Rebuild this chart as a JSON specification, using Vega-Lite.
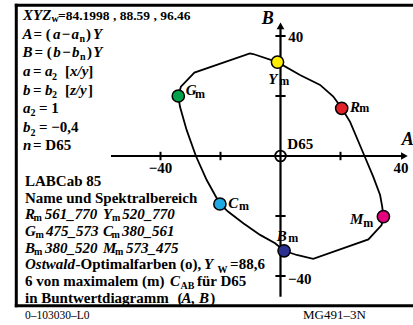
{
 "$schema": "https://vega.github.io/schema/vega-lite/v6.json",
 "width": 413, "height": 325,
 "autosize": {"type": "none"},
 "padding": 0,
 "background": "white",
 "config": {"view": {"stroke": null}},
 "encoding": {
  "x": {"field": "A", "type": "quantitative", "scale": {"domain": [-93.5, 44.1667], "nice": false, "zero": false}, "axis": null},
  "y": {"field": "B", "type": "quantitative", "scale": {"domain": [-56.3333, 52], "nice": false, "zero": false}, "axis": null}
 },
 "datasets": {
  "frame": [
   {"A": -88.07, "B": 50.23, "A2": 44.17, "B2": 50.23},
   {"A": -88.07, "B": -49.9, "A2": 44.17, "B2": -49.9},
   {"A": -88.07, "B": 50.23, "A2": -88.07, "B2": -49.9}
  ],
  "axes": [
   {"A": -56.5, "B": 0, "A2": 41, "B2": 0},
   {"A": 0, "B": -46.9, "A2": 0, "B2": 43}
  ],
  "ticks": [
   {"A": -40, "B": -1.4, "A2": -40, "B2": 1.4},
   {"A": -20, "B": -1.4, "A2": -20, "B2": 1.4},
   {"A": 20, "B": -1.4, "A2": 20, "B2": 1.4},
   {"A": -1.7, "B": 40, "A2": 1.7, "B2": 40},
   {"A": -1.7, "B": 20, "A2": 1.7, "B2": 20},
   {"A": -1.7, "B": -20, "A2": 1.7, "B2": -20},
   {"A": -1.7, "B": -40, "A2": 1.7, "B2": -40}
  ],
  "arrowR": [{"A": 41.3, "B": 0}],
  "arrowU": [{"A": 0, "B": 43.4}],
  "origin": [{"A": 0, "B": 0}],
  "curve": [
   {"i": 1, "A": -34.07, "B": 20.0},
   {"i": 2, "A": -33.2, "B": 23.1},
   {"i": 3, "A": -28.7, "B": 27.8},
   {"i": 4, "A": -10.2, "B": 34.2},
   {"i": 5, "A": -9.1, "B": 34.0},
   {"i": 6, "A": -1.0, "B": 31.3},
   {"i": 7, "A": 6.5, "B": 27.0},
   {"i": 8, "A": 13.2, "B": 23.7},
   {"i": 9, "A": 17.6, "B": 19.8},
   {"i": 10, "A": 20.4, "B": 15.9},
   {"i": 11, "A": 23.2, "B": 11.4},
   {"i": 12, "A": 28.0, "B": 0.0},
   {"i": 13, "A": 30.9, "B": -6.9},
   {"i": 14, "A": 33.2, "B": -13.0},
   {"i": 15, "A": 33.9, "B": -16.9},
   {"i": 16, "A": 34.3, "B": -20.2},
   {"i": 17, "A": 33.7, "B": -23.0},
   {"i": 18, "A": 29.3, "B": -27.8},
   {"i": 19, "A": 10.9, "B": -34.3},
   {"i": 20, "A": 5.4, "B": -33.0},
   {"i": 21, "A": 1.2, "B": -31.6},
   {"i": 22, "A": -1.8, "B": -29.1},
   {"i": 23, "A": -6.8, "B": -26.3},
   {"i": 24, "A": -12.4, "B": -22.4},
   {"i": 25, "A": -17.4, "B": -18.6},
   {"i": 26, "A": -20.2, "B": -16.0},
   {"i": 27, "A": -24.6, "B": -8.0},
   {"i": 28, "A": -28.2, "B": 0.0},
   {"i": 29, "A": -31.3, "B": 8.7},
   {"i": 30, "A": -33.5, "B": 16.4},
   {"i": 31, "A": -34.07, "B": 20.0}
  ],
  "points": [
   {"name": "G", "A": -34.07, "B": 20.0},
   {"name": "Y", "A": -1.0, "B": 31.3},
   {"name": "R", "A": 20.4, "B": 15.9},
   {"name": "M", "A": 34.3, "B": -20.2},
   {"name": "B", "A": 1.2, "B": -31.6},
   {"name": "C", "A": -20.2, "B": -16.0}
  ],
  "ib15": [
   {"A": -85.83, "B": 45.33, "t": "XYZ"},
   {"A": -86.0, "B": 39.0, "t": "A"},
   {"A": -75.83, "B": 39.0, "t": "a"},
   {"A": -73.0, "B": 39.0, "t": "−"},
   {"A": -69.67, "B": 39.0, "t": "a"},
   {"A": -62.5, "B": 39.0, "t": "Y"},
   {"A": -86.0, "B": 33.0, "t": "B"},
   {"A": -75.73, "B": 33.0, "t": "b"},
   {"A": -72.83, "B": 33.0, "t": "−"},
   {"A": -69.5, "B": 33.0, "t": "b"},
   {"A": -62.4, "B": 33.0, "t": "Y"},
   {"A": -85.83, "B": 26.67, "t": "a"},
   {"A": -78.5, "B": 26.67, "t": "a"},
   {"A": -70.17, "B": 26.67, "t": "x/y"},
   {"A": -85.83, "B": 20.33, "t": "b"},
   {"A": -78.5, "B": 20.33, "t": "b"},
   {"A": -70.17, "B": 20.33, "t": "z/y"},
   {"A": -85.83, "B": 14.33, "t": "a"},
   {"A": -85.83, "B": 8.0, "t": "b"},
   {"A": -85.83, "B": 2.0, "t": "n"},
   {"A": -85.17, "B": -21.1, "t": "R"},
   {"A": -78.6, "B": -21.1, "t": "561_770"},
   {"A": -59.17, "B": -21.1, "t": "Y"},
   {"A": -52.73, "B": -21.1, "t": "520_770"},
   {"A": -85.17, "B": -26.67, "t": "G"},
   {"A": -78.17, "B": -26.67, "t": "475_573"},
   {"A": -59.17, "B": -26.67, "t": "C"},
   {"A": -52.83, "B": -26.67, "t": "380_561"},
   {"A": -85.17, "B": -32.23, "t": "B"},
   {"A": -78.5, "B": -32.23, "t": "380_520"},
   {"A": -59.17, "B": -32.23, "t": "M"},
   {"A": -51.5, "B": -32.23, "t": "573_475"},
   {"A": -85.17, "B": -37.77, "t": "Ostwald"},
   {"A": -25.5, "B": -37.77, "t": "Y"},
   {"A": -36.83, "B": -43.33, "t": "C"},
   {"A": -33.0, "B": -48.9, "t": "A, B"}
  ],
  "b15": [
   {"A": -82.33, "B": 39.0, "t": "= ("},
   {"A": -64.83, "B": 39.0, "t": ")"},
   {"A": -82.0, "B": 33.0, "t": "= ("},
   {"A": -64.5, "B": 33.0, "t": ")"},
   {"A": -82.5, "B": 26.67, "t": "="},
   {"A": -71.83, "B": 26.67, "t": "["},
   {"A": -64.1, "B": 26.67, "t": "]"},
   {"A": -82.5, "B": 20.33, "t": "="},
   {"A": -71.83, "B": 20.33, "t": "["},
   {"A": -64.17, "B": 20.33, "t": "]"},
   {"A": -80.5, "B": 14.33, "t": "= 1"},
   {"A": -80.5, "B": 8.0, "t": "= −0,4"},
   {"A": -82.5, "B": 2.0, "t": "= D65"},
   {"A": -85.17, "B": -10.0, "t": "LABCab 85"},
   {"A": -85.17, "B": -15.57, "t": "Name und Spektralbereich"},
   {"A": -68.33, "B": -37.77, "t": "-Optimalfarben (o),"},
   {"A": -16.8, "B": -37.77, "t": "=88,6"},
   {"A": -85.17, "B": -43.33, "t": "6 von maximalem (m)"},
   {"A": -27.83, "B": -43.33, "t": "für D65"},
   {"A": -85.17, "B": -48.9, "t": "in Buntwertdiagramm"},
   {"A": -34.33, "B": -48.9, "t": "("},
   {"A": -23.4, "B": -48.9, "t": ")"},
   {"A": 2.6, "B": 37.9, "t": "40"},
   {"A": 2.5, "B": -42.77, "t": "−40"},
   {"A": 2.27, "B": 2.33, "t": "D65"}
  ],
  "b15c": [
   {"A": -40, "B": -5.67, "t": "−40"},
   {"A": 40.17, "B": -5.67, "t": "40"}
  ],
  "b13": [
   {"A": -74.17, "B": 45.33, "t": "=84.1998 , 88.59 , 96.46"}
  ],
  "sub": [
   {"A": -76.33, "B": 44.83, "t": "w"},
   {"A": -67.0, "B": 38.0, "t": "n"},
   {"A": -66.83, "B": 32.0, "t": "n"},
   {"A": -76.17, "B": 25.5, "t": "2"},
   {"A": -76.17, "B": 19.17, "t": "2"},
   {"A": -83.33, "B": 13.17, "t": "2"},
   {"A": -83.33, "B": 6.83, "t": "2"},
   {"A": -82.33, "B": -21.77, "t": "m"},
   {"A": -56.17, "B": -21.77, "t": "m"},
   {"A": -81.67, "B": -27.33, "t": "m"},
   {"A": -56.33, "B": -27.33, "t": "m"},
   {"A": -82.17, "B": -32.9, "t": "m"},
   {"A": -55.17, "B": -32.9, "t": "m"},
   {"A": -21.0, "B": -39.0, "t": "W"},
   {"A": -33.33, "B": -44.33, "t": "AB"}
  ],
  "plab": [
   {"A": -31.6, "B": 20.33, "t": "G"},
   {"A": -4.07, "B": 24.0, "t": "Y"},
   {"A": 23.17, "B": 14.77, "t": "R"},
   {"A": -17.4, "B": -17.4, "t": "C"},
   {"A": -1.27, "B": -28.33, "t": "B"},
   {"A": 23.17, "B": -22.77, "t": "M"}
  ],
  "plabm": [
   {"A": -28.5, "B": 19.2, "t": "m"},
   {"A": -0.4, "B": 23.67, "t": "m"},
   {"A": 26.27, "B": 14.56, "t": "m"},
   {"A": -13.83, "B": -18.0, "t": "m"},
   {"A": 2.6, "B": -28.56, "t": "m"},
   {"A": 27.6, "B": -23.56, "t": "m"}
  ],
  "big": [
   {"A": 40.4, "B": 3.67, "t": "A"},
   {"A": -6.27, "B": 44.0, "t": "B"}
  ],
  "foot1": [{"A": -85.17, "B": -54.33, "t": "0–103030–L0"}],
  "foot2": [{"A": 7.5, "B": -54.33, "t": "MG491–3N"}]
 },
 "layer": [
  {"data": {"name": "frame"}, "mark": {"type": "rule", "color": "black", "strokeWidth": 3, "strokeCap": "square"},
   "encoding": {"x2": {"field": "A2"}, "y2": {"field": "B2"}}},
  {"data": {"name": "axes"}, "mark": {"type": "rule", "color": "black", "strokeWidth": 2.2},
   "encoding": {"x2": {"field": "A2"}, "y2": {"field": "B2"}}},
  {"data": {"name": "ticks"}, "mark": {"type": "rule", "color": "black", "strokeWidth": 2},
   "encoding": {"x2": {"field": "A2"}, "y2": {"field": "B2"}}},
  {"data": {"name": "arrowR"}, "mark": {"type": "point", "shape": "triangle-right", "filled": true, "color": "black", "size": 60, "opacity": 1}},
  {"data": {"name": "arrowU"}, "mark": {"type": "point", "shape": "triangle-up", "filled": true, "color": "black", "size": 60, "opacity": 1}},
  {"data": {"name": "curve"}, "mark": {"type": "line", "color": "black", "strokeWidth": 1.8, "interpolate": "linear"},
   "encoding": {"order": {"field": "i", "type": "quantitative"}}},
  {"data": {"name": "origin"}, "mark": {"type": "point", "filled": false, "stroke": "black", "strokeWidth": 1.8, "size": 115, "opacity": 1}},
  {"data": {"name": "points"}, "mark": {"type": "point", "shape": "circle", "filled": true, "stroke": "black", "strokeWidth": 1.5, "size": 150, "opacity": 1},
   "encoding": {"color": {"field": "name", "type": "nominal", "legend": null,
     "scale": {"domain": ["G", "Y", "R", "M", "B", "C"], "range": ["#00a14b", "#ffed00", "#e4202a", "#e5007d", "#2b3190", "#1fa8e1"]}}}},
  {"data": {"name": "ib15"}, "mark": {"type": "text", "font": "Liberation Serif", "fontSize": 15, "fontWeight": "bold", "fontStyle": "italic", "align": "left", "baseline": "alphabetic", "color": "black"},
   "encoding": {"text": {"field": "t"}}},
  {"data": {"name": "b15"}, "mark": {"type": "text", "font": "Liberation Serif", "fontSize": 15, "fontWeight": "bold", "align": "left", "baseline": "alphabetic", "color": "black"},
   "encoding": {"text": {"field": "t"}}},
  {"data": {"name": "b15c"}, "mark": {"type": "text", "font": "Liberation Serif", "fontSize": 15, "fontWeight": "bold", "align": "center", "baseline": "alphabetic", "color": "black"},
   "encoding": {"text": {"field": "t"}}},
  {"data": {"name": "b13"}, "mark": {"type": "text", "font": "Liberation Serif", "fontSize": 13.5, "fontWeight": "bold", "align": "left", "baseline": "alphabetic", "color": "black"},
   "encoding": {"text": {"field": "t"}}},
  {"data": {"name": "sub"}, "mark": {"type": "text", "font": "Liberation Serif", "fontSize": 10, "fontWeight": "bold", "align": "left", "baseline": "alphabetic", "color": "black"},
   "encoding": {"text": {"field": "t"}}},
  {"data": {"name": "plab"}, "mark": {"type": "text", "font": "Liberation Serif", "fontSize": 15, "fontWeight": "bold", "fontStyle": "italic", "align": "left", "baseline": "alphabetic", "color": "black"},
   "encoding": {"text": {"field": "t"}}},
  {"data": {"name": "plabm"}, "mark": {"type": "text", "font": "Liberation Serif", "fontSize": 12, "fontWeight": "bold", "align": "left", "baseline": "alphabetic", "color": "black"},
   "encoding": {"text": {"field": "t"}}},
  {"data": {"name": "big"}, "mark": {"type": "text", "font": "Liberation Serif", "fontSize": 18, "fontWeight": "bold", "fontStyle": "italic", "align": "left", "baseline": "alphabetic", "color": "black"},
   "encoding": {"text": {"field": "t"}}},
  {"data": {"name": "foot1"}, "mark": {"type": "text", "font": "Liberation Serif", "fontSize": 11.5, "align": "left", "baseline": "alphabetic", "color": "black"},
   "encoding": {"text": {"field": "t"}}},
  {"data": {"name": "foot2"}, "mark": {"type": "text", "font": "Liberation Serif", "fontSize": 13, "align": "left", "baseline": "alphabetic", "color": "black"},
   "encoding": {"text": {"field": "t"}}}
 ]
}
